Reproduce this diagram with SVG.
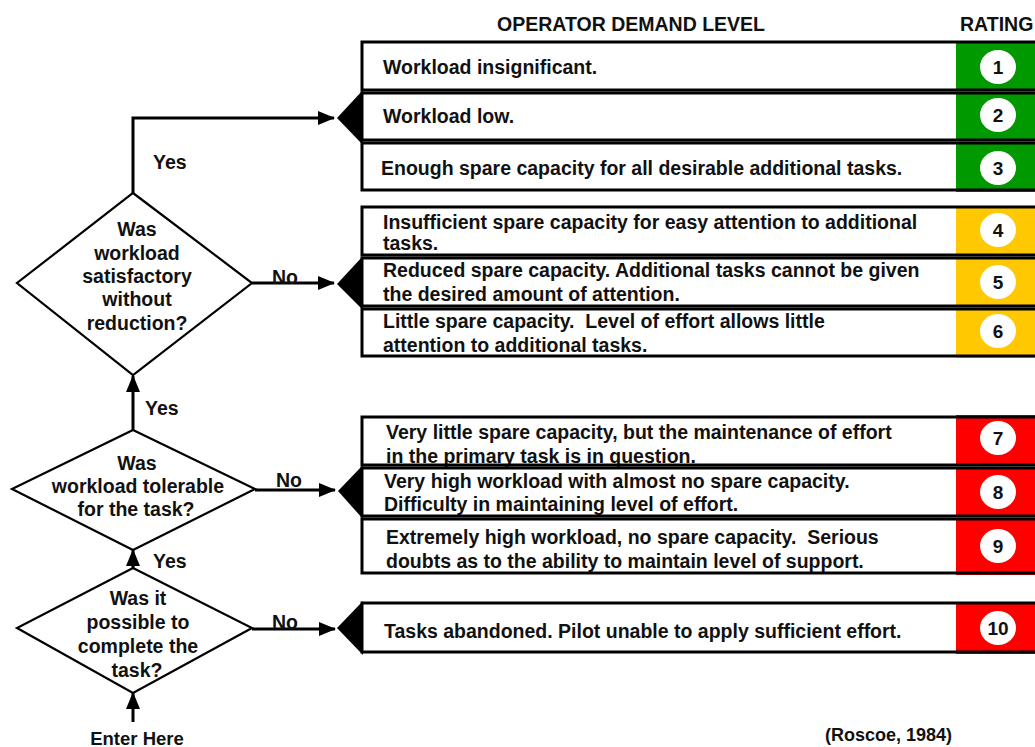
<svg xmlns="http://www.w3.org/2000/svg" width="1035" height="747" viewBox="0 0 1035 747">
<style>
text{font-family:"Liberation Sans",Arial,sans-serif;font-weight:bold;fill:#111;font-size:19.5px;white-space:pre}
.hd{font-size:19.5px}
.c{text-anchor:middle}
.num{font-size:19px;text-anchor:middle}
.row{fill:none;stroke:#000;stroke-width:3}
.bg{fill:#fff}
.g{fill:#009a00}.y{fill:#ffc800}.r{fill:#ff0000}
.dot{fill:#fff}
.tip{fill:#000}
.dia{fill:#fff;stroke:#000;stroke-width:2.2}
.ln{fill:none;stroke:#000;stroke-width:3}
</style>
<defs>
<marker id="ah" markerUnits="userSpaceOnUse" markerWidth="18" markerHeight="14" refX="16" refY="7" orient="auto">
<path d="M0,0 L17,7 L0,14 Z" fill="#000"/>
</marker>
</defs>
<rect width="1035" height="747" fill="#fff"/>
<text x="631" y="31" class="hd c">OPERATOR DEMAND LEVEL</text>
<text x="960" y="31" class="hd">RATING</text>

<g id="row1">
<rect class="bg" x="362" y="42" width="680" height="48"/>
<rect class="g" x="956" y="41" width="86" height="50"/>
<ellipse class="dot" cx="998" cy="67" rx="18" ry="17"/>
<text class="num" x="998" y="74">1</text>
<text x="383" y="74">Workload insignificant.</text>
<rect class="row" x="362" y="42" width="680" height="48"/>
</g>
<g id="row2">
<rect class="bg" x="362" y="93" width="680" height="47"/>
<rect class="g" x="956" y="93" width="86" height="47"/>
<ellipse class="dot" cx="998" cy="115" rx="18" ry="17"/>
<text class="num" x="998" y="122">2</text>
<text x="383" y="123">Workload low.</text>
<rect class="row" x="362" y="93" width="680" height="47"/>
<polygon class="tip" points="337,118 363,90 363,145"/>
</g>
<g id="row3">
<rect class="bg" x="362" y="143" width="680" height="47"/>
<rect class="g" x="956" y="143" width="86" height="49"/>
<ellipse class="dot" cx="998" cy="168" rx="18" ry="17"/>
<text class="num" x="998" y="175">3</text>
<text x="381" y="175">Enough spare capacity for all desirable additional tasks.</text>
<rect class="row" x="362" y="143" width="680" height="47"/>
</g>

<g id="row4">
<rect class="bg" x="362" y="207" width="680" height="48"/>
<rect class="y" x="956" y="206" width="86" height="50"/>
<ellipse class="dot" cx="998" cy="230" rx="18" ry="17"/>
<text class="num" x="998" y="237">4</text>
<text x="383" y="229">Insufficient spare capacity for easy attention to additional</text>
<text x="383" y="250">tasks.</text>
<rect class="row" x="362" y="207" width="680" height="48"/>
</g>
<g id="row5">
<rect class="bg" x="362" y="258" width="680" height="48"/>
<rect class="y" x="956" y="258" width="86" height="48"/>
<ellipse class="dot" cx="998" cy="282" rx="18" ry="17"/>
<text class="num" x="998" y="289">5</text>
<text x="383" y="277">Reduced spare capacity. Additional tasks cannot be given</text>
<text x="383" y="301">the desired amount of attention.</text>
<rect class="row" x="362" y="258" width="680" height="48"/>
<polygon class="tip" points="337,284 363,256 363,310"/>
</g>
<g id="row6">
<rect class="bg" x="362" y="309" width="680" height="47"/>
<rect class="y" x="956" y="309" width="86" height="49"/>
<ellipse class="dot" cx="998" cy="331" rx="18" ry="17"/>
<text class="num" x="998" y="338">6</text>
<text x="383" y="328">Little spare capacity.  Level of effort allows little</text>
<text x="383" y="352">attention to additional tasks.</text>
<rect class="row" x="362" y="309" width="680" height="47"/>
</g>

<g id="row7">
<rect class="bg" x="362" y="417" width="680" height="48"/>
<rect class="r" x="956" y="415" width="86" height="50"/>
<ellipse class="dot" cx="998" cy="438" rx="18" ry="17"/>
<text class="num" x="998" y="445">7</text>
<text x="386" y="439">Very little spare capacity, but the maintenance of effort</text>
<text x="386" y="463">in the primary task is in question.</text>
<rect class="row" x="362" y="417" width="680" height="48"/>
</g>
<g id="row8">
<rect class="bg" x="362" y="468" width="680" height="48"/>
<rect class="r" x="956" y="468" width="86" height="48"/>
<ellipse class="dot" cx="998" cy="492" rx="18" ry="17"/>
<text class="num" x="998" y="499">8</text>
<text x="384" y="488">Very high workload with almost no spare capacity.</text>
<text x="384" y="511">Difficulty in maintaining level of effort.</text>
<rect class="row" x="362" y="468" width="680" height="48"/>
<polygon class="tip" points="338,491 363,465 363,519"/>
</g>
<g id="row9">
<rect class="bg" x="362" y="519" width="680" height="54"/>
<rect class="r" x="956" y="519" width="86" height="56"/>
<ellipse class="dot" cx="998" cy="546" rx="18" ry="17"/>
<text class="num" x="998" y="553">9</text>
<text x="386" y="544">Extremely high workload, no spare capacity.  Serious</text>
<text x="386" y="568">doubts as to the ability to maintain level of support.</text>
<rect class="row" x="362" y="519" width="680" height="54"/>
</g>

<g id="row10">
<rect class="bg" x="362" y="603" width="680" height="49"/>
<rect class="r" x="956" y="602" width="86" height="52"/>
<ellipse class="dot" cx="998" cy="628" rx="18" ry="17"/>
<text class="num" x="998" y="635">10</text>
<text x="384" y="638">Tasks abandoned. Pilot unable to apply sufficient effort.</text>
<rect class="row" x="362" y="603" width="680" height="49"/>
<polygon class="tip" points="337,628 363,601 363,655"/>
</g>

<g id="connectors">
<path class="ln" d="M133,194 V118 H334" marker-end="url(#ah)"/>
<path class="ln" d="M252,283 H334" marker-end="url(#ah)"/>
<path class="ln" d="M133,430 V376" marker-end="url(#ah)"/>
<path class="ln" d="M255,490 H335" marker-end="url(#ah)"/>
<path class="ln" d="M133,568 V550" marker-end="url(#ah)"/>
<path class="ln" d="M252,629 H335" marker-end="url(#ah)"/>
<path class="ln" d="M133,722 V693" marker-end="url(#ah)"/>
<text x="153" y="169">Yes</text>
<text x="272" y="284">No</text>
<text x="145" y="415">Yes</text>
<text x="276" y="487">No</text>
<text x="153" y="568">Yes</text>
<text x="272" y="629">No</text>
</g>

<g id="d1">
<polygon class="dia" points="133,193 252,283 133,375 17,283"/>
<text class="c" x="137" y="236">Was</text>
<text class="c" x="137" y="260">workload</text>
<text class="c" x="137" y="283">satisfactory</text>
<text class="c" x="137" y="306">without</text>
<text class="c" x="137" y="330">reduction?</text>
</g>
<g id="d2">
<polygon class="dia" points="133,430 255,489 133,550 12,489"/>
<text class="c" x="137" y="470">Was</text>
<text class="c" x="138" y="493">workload tolerable</text>
<text class="c" x="136" y="516">for the task?</text>
</g>
<g id="d3">
<polygon class="dia" points="133,568 252,628 133,693 17,628"/>
<text class="c" x="138" y="605">Was it</text>
<text class="c" x="138" y="629">possible to</text>
<text class="c" x="138" y="653">complete the</text>
<text class="c" x="137" y="677">task?</text>
</g>
<g id="enter">
<text class="c" x="137" y="745" style="font-size:18.5px">Enter Here</text>
</g>
<text x="825" y="741" style="font-size:18px">(Roscoe, 1984)</text>
</svg>
